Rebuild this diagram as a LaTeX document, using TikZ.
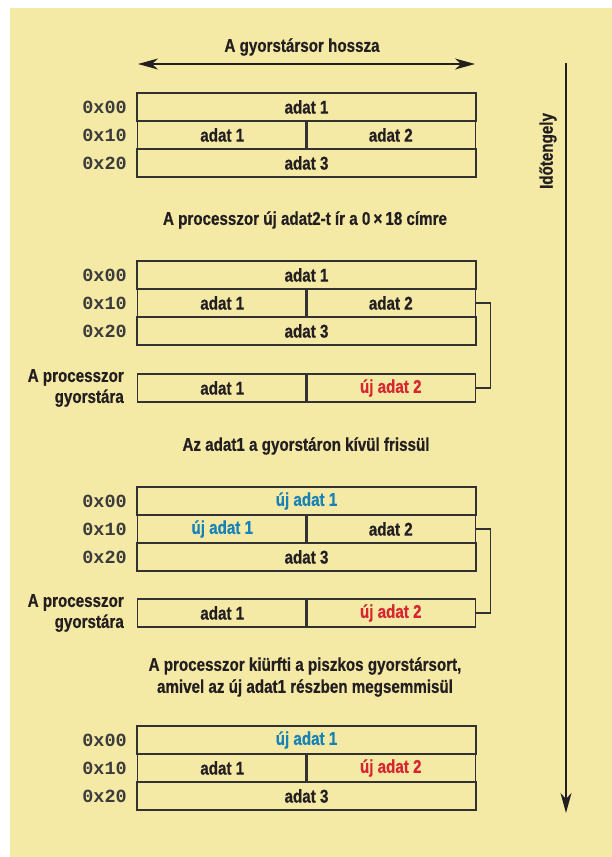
\documentclass[tikz,border=0pt]{standalone}
\usepackage{fontspec}
\setmainfont{Liberation Sans}[FakeStretch=0.82, BoldFeatures={FakeBold=0.6}]
\newfontfamily\codefont{Liberation Mono}
\usetikzlibrary{arrows.meta}
\definecolor{bgyellow}{RGB}{245,233,166}
\definecolor{ink}{RGB}{35,31,32}
\definecolor{linegray}{RGB}{50,50,50}
\definecolor{newred}{RGB}{214,38,48}
\definecolor{newblue}{RGB}{22,130,182}
\definecolor{codegray}{RGB}{60,60,60}
\tikzset{
  cellbase/.style={draw=linegray, line width=1.3pt, minimum height=28pt, inner sep=0pt,
    font=\fontsize{18.5}{20}\selectfont\bfseries, text=ink},
  cellfull/.style={cellbase, minimum width=339pt},
  cellhalf/.style={cellbase, minimum width=169.5pt},
  addr/.style={anchor=east, inner sep=0pt, font=\codefont\fontsize{18.5}{20}\selectfont\bfseries, text=codegray},
  caption/.style={inner sep=0pt, align=center, font=\fontsize{18.5}{22}\selectfont\bfseries, text=ink},
  cachelbl/.style={anchor=east, inner sep=0pt, align=right, font=\fontsize{18.5}{21}\selectfont\bfseries, text=ink},
  connector/.style={draw=linegray, line width=1.3pt},
  axis/.style={draw=ink, line width=1.5pt},
  tip/.style={-{Stealth[length=20pt, width=11pt, inset=6pt]}},
  tips/.style={{Stealth[length=20pt, width=11pt, inset=6pt]}-{Stealth[length=20pt, width=11pt, inset=6pt]}}
}
\begin{document}
\begin{tikzpicture}[x=1pt, y=-1pt]
\useasboundingbox (0,0) rectangle (612,857);
\fill[white] (0,0) rectangle (612,857);
\fill[bgyellow] (10,8) rectangle (612,857);

% top arrow and title
\node[caption] (lenlbl) at (302,47) {A gyorstársor hossza};
\coordinate (lenL) at (138,64);
\coordinate (lenR) at (475,64);
\draw[axis, tips] (lenL) -- (lenR);

% time axis
\coordinate (timeTop) at (566,63);
\coordinate (timeBot) at (566,813);
\draw[axis, tip] (timeTop) -- (timeBot);
\node[caption, rotate=90] (timelbl) at (548,151) {Időtengely};

% table 1
\node[cellfull] (t1a) at (306.5,107) {adat 1};
\node[cellhalf] (t1b1) at (222.25,135) {adat 1};
\node[cellhalf] (t1b2) at (390.75,135) {adat 2};
\node[cellfull] (t1c) at (306.5,163) {adat 3};
\node[addr] (t1l1) at (127,107) {0x00};
\node[addr] (t1l2) at (127,135) {0x10};
\node[addr] (t1l3) at (127,163) {0x20};

\node[caption] (cap1) at (305,220) {A processzor új adat2-t ír a 0\,×\,18 címre};

% table 2
\node[cellfull] (t2a) at (306.5,275) {adat 1};
\node[cellhalf] (t2b1) at (222.25,303) {adat 1};
\node[cellhalf] (t2b2) at (390.75,303) {adat 2};
\node[cellfull] (t2c) at (306.5,331) {adat 3};
\node[addr] (t2l1) at (127,275) {0x00};
\node[addr] (t2l2) at (127,303) {0x10};
\node[addr] (t2l3) at (127,331) {0x20};
\node[cellhalf] (t2k1) at (222.25,388) {adat 1};
\node[cellhalf, text=newred] (t2k2) at (390.75,388) {új adat 2};
\node[cachelbl] (t2kl) at (124,388) {A processzor\\gyorstára};
\draw[connector] (t2b2.east) -- ++(14,0) |- (t2k2.east);

\node[caption] (cap2) at (306,446) {Az adat1 a gyorstáron kívül frissül};

% table 3
\node[cellfull, text=newblue] (t3a) at (306.5,501) {új adat 1};
\node[cellhalf, text=newblue] (t3b1) at (222.25,529) {új adat 1};
\node[cellhalf] (t3b2) at (390.75,529) {adat 2};
\node[cellfull] (t3c) at (306.5,557) {adat 3};
\node[addr] (t3l1) at (127,501) {0x00};
\node[addr] (t3l2) at (127,529) {0x10};
\node[addr] (t3l3) at (127,557) {0x20};
\node[cellhalf] (t3k1) at (222.25,613) {adat 1};
\node[cellhalf, text=newred] (t3k2) at (390.75,613) {új adat 2};
\node[cachelbl] (t3kl) at (124,613) {A processzor\\gyorstára};
\draw[connector] (t3b2.east) -- ++(14,0) |- (t3k2.east);

\node[caption] (cap3) at (305,677) {A processzor kiürfti a piszkos gyorstársort,\\amivel az új adat1 részben megsemmisül};

% table 4
\node[cellfull, text=newblue] (t4a) at (306.5,740) {új adat 1};
\node[cellhalf] (t4b1) at (222.25,768) {adat 1};
\node[cellhalf, text=newred] (t4b2) at (390.75,768) {új adat 2};
\node[cellfull] (t4c) at (306.5,796) {adat 3};
\node[addr] (t4l1) at (127,740) {0x00};
\node[addr] (t4l2) at (127,768) {0x10};
\node[addr] (t4l3) at (127,796) {0x20};
\end{tikzpicture}
\end{document}
